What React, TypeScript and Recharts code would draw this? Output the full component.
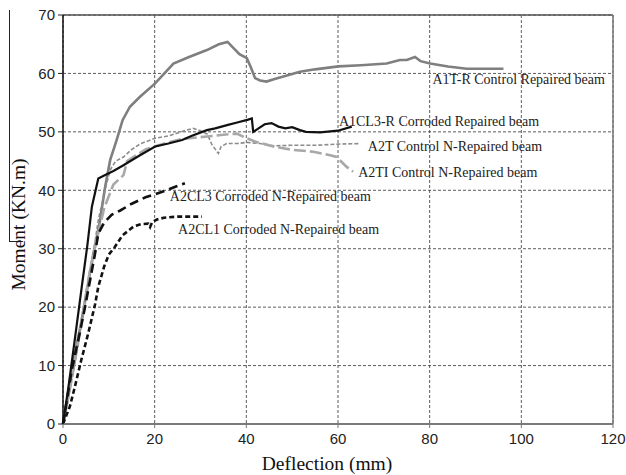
import React from "react";
import {
  LineChart, Line, XAxis, YAxis, CartesianGrid, ReferenceLine, ReferenceDot, Label,
} from "recharts";

// deflection (mm) / moment (kN.m) for each beam
const a1trX = [0, 1, 2.6, 4, 6.6, 8, 9.2, 10.3, 11.7, 13, 14.6, 16.8, 20.1, 24.1, 27.5, 31.4, 34, 35.9, 37, 38.5, 40.1, 41, 41.9, 43, 44.4, 46, 51.7, 55, 60.1, 65, 70.6, 73.5, 75, 76.8, 78, 80.1, 84, 88.1, 92, 96.1];
const a1trY = [0, 4, 12, 17.5, 29, 34.5, 40.6, 45.2, 48.6, 52, 54.3, 56, 58.3, 61.7, 62.8, 64, 65, 65.4, 64.5, 63.3, 62.6, 61, 59.2, 58.8, 58.6, 59, 60.3, 60.7, 61.2, 61.4, 61.7, 62.3, 62.3, 62.8, 62.1, 61.7, 61.2, 60.8, 60.8, 60.8];

const a1cl3X = [0, 1.2, 2.5, 4.1, 5.3, 6.3, 7.7, 9.2, 11, 13, 16.8, 20.1, 23, 26, 28, 31.4, 33.2, 36, 38, 40.4, 41.2, 41.5, 42.5, 44, 45.5, 47, 48.5, 50, 51.7, 53, 56.1, 60, 63];
const a1cl3Y = [0, 6.4, 14, 23.5, 30.5, 37.2, 42, 42.6, 43.3, 44.2, 46, 47.5, 48, 48.6, 49.3, 50.3, 50.6, 51.2, 51.6, 52.1, 52.3, 50, 50.5, 51.3, 51.5, 50.9, 50.6, 50.8, 50.3, 50, 49.9, 50.2, 50.9];

const a2tX = [0, 1, 3, 5.5, 7.7, 9, 10.3, 11.5, 13.2, 15, 17, 20.1, 23, 25, 27, 28.4, 30, 31.5, 32.5, 33.9, 34.5, 35.7, 38, 40, 43, 46, 50, 55, 60, 64.8];
const a2tY = [0, 4, 12, 23.5, 34.9, 39.5, 43.5, 45, 45.7, 47, 48, 48.9, 49.3, 49.8, 50.3, 50.6, 50.2, 49.6, 47.8, 46.3, 47.5, 48, 48, 48.2, 48, 47.6, 47.7, 47.7, 47.9, 48];

const a2tiX = [0, 1, 2, 4.1, 5.9, 7.5, 9, 11, 13.2, 14, 16, 18, 20, 23, 26, 31.4, 35, 37.9, 40.1, 42, 44, 45.9, 48, 50.3, 54.6, 58.3, 59.7, 61.9, 63.3];
const a2tiY = [0, 4, 8, 17.8, 26.4, 32, 37, 41, 42.6, 45, 46, 47, 47.5, 48.2, 48.8, 49.2, 49.5, 49.7, 48.9, 48.3, 47.9, 47.5, 47.2, 46.9, 46.6, 46, 45.7, 44, 43.2];

const a2cl3X = [0, 1.9, 3.5, 4.8, 6, 7, 7.7, 9, 10.6, 12.4, 15, 18, 20, 22.6, 24.5, 26.6];
const a2cl3Y = [0, 9.2, 15, 20, 25, 29.2, 32.6, 34.5, 35.8, 36.5, 37.7, 38.8, 39.3, 40, 40.6, 41.2];

const a2cl1X = [0, 1.5, 2.6, 4, 5.5, 7, 7.7, 9, 10, 11.3, 13, 15.4, 17, 18.6, 19, 19.5, 20.5, 22, 25, 28, 30.3];
const a2cl1Y = [0, 3, 6.4, 11, 15.5, 20.5, 23.5, 27, 29, 30.3, 32.3, 33.8, 34.2, 34.3, 33.7, 34.6, 35, 35.3, 35.5, 35.5, 35.5];

const xTicks = [0, 20, 40, 60, 80, 100, 120];
const yTicks = [0, 10, 20, 30, 40, 50, 60, 70];

// label anchor (start of text) in data units
const labels = [
  { text: "A1T-R Control Repaired beam", x: 80.6, y: 59 },
  { text: "A1CL3-R Corroded Repaired beam", x: 60.2, y: 51.8 },
  { text: "A2T Control N-Repaired beam", x: 66.5, y: 47.5 },
  { text: "A2TI Control N-Repaired beam", x: 64.4, y: 43.1 },
  { text: "A2CL3 Corroded N-Repaired beam", x: 23.3, y: 38.9 },
  { text: "A2CL1 Corroded N-Repaired beam", x: 25.1, y: 33.3 },
];

const zip = (xs: number[], ys: number[]) => xs.map((x, i) => ({ x, y: ys[i] }));

const series = [
  { name: "A1T-R", data: zip(a1trX, a1trY), stroke: "#7f7f7f", width: 2.6, dash: undefined },
  { name: "A2T", data: zip(a2tX, a2tY), stroke: "#8c8c8c", width: 1.6, dash: "4 2" },
  { name: "A2TI", data: zip(a2tiX, a2tiY), stroke: "#a8a8a8", width: 2.6, dash: "12 4" },
  { name: "A1CL3-R", data: zip(a1cl3X, a1cl3Y), stroke: "#111111", width: 2.2, dash: undefined },
  { name: "A2CL3", data: zip(a2cl3X, a2cl3Y), stroke: "#111111", width: 2.6, dash: "9 5" },
  { name: "A2CL1", data: zip(a2cl1X, a2cl1Y), stroke: "#111111", width: 2.6, dash: "5 3" },
];

const TICK = { fill: "#222", fontSize: 15, fontFamily: "Liberation Sans, Arial, sans-serif" };
const SERIF = "Liberation Serif, Times New Roman, serif";

export default function App() {
  return (
    <div style={{ position: "absolute", left: 0, top: 0, width: 626, height: 475, background: "#fff" }}>
      <div style={{ position: "absolute", left: 9, top: 10, width: 13, height: 231, borderLeft: "1.5px solid #222", borderBottom: "1.5px solid #222" }} />
      <LineChart width={626} height={475} margin={{ top: 15, right: 13, bottom: 0, left: 0 }}>
        <CartesianGrid stroke="#333" strokeWidth={0.8} strokeDasharray="3 2" />
        <XAxis type="number" dataKey="x" domain={[0, 120]} ticks={xTicks} height={51}
          tick={TICK} tickSize={4} tickMargin={5} tickLine={{ stroke: "#777" }}
          axisLine={{ stroke: "#7a7a7a", strokeWidth: 2 }} allowDuplicatedCategory={false}>
          <Label content={(p: any) => (
            <text x={p.viewBox.x + p.viewBox.width / 2 - 11} y={p.viewBox.y + 46} textAnchor="middle"
              fontFamily={SERIF} fontSize={19.5} fill="#111">Deflection (mm)</text>
          )} />
        </XAxis>
        <YAxis type="number" dataKey="y" domain={[0, 70]} ticks={yTicks} width={63}
          tick={TICK} tickSize={5} tickMargin={3} tickLine={{ stroke: "#222" }}
          axisLine={{ stroke: "#111", strokeWidth: 1.5 }}>
          <Label content={(p: any) => {
            const cx = p.viewBox.x + 18;
            const cy = p.viewBox.y + p.viewBox.height / 2 + 5;
            return (
              <text x={cx} y={cy} transform={`rotate(-90 ${cx} ${cy})`} textAnchor="middle" dominantBaseline="central"
                fontFamily={SERIF} fontSize={19.5} fill="#111">Moment (KN.m)</text>
            );
          }} />
        </YAxis>
        <ReferenceLine y={70} stroke="#555" strokeWidth={1.5} />
        <ReferenceLine x={120} stroke="#777" strokeWidth={1.5} />
        {series.map((s) => (
          <Line key={s.name} data={s.data} dataKey="y" type="linear" stroke={s.stroke} strokeWidth={s.width}
            strokeDasharray={s.dash} dot={false} activeDot={false} isAnimationActive={false} />
        ))}
        {labels.map((l) => (
          <ReferenceDot key={l.text} x={l.x} y={l.y} r={0} stroke="none" fill="none"
            label={(p: any) => (
              <text x={p.viewBox.x} y={p.viewBox.y} dominantBaseline="central" fontFamily={SERIF}
                fontSize={14} fill="#222">{l.text}</text>
            )} />
        ))}
      </LineChart>
    </div>
  );
}
